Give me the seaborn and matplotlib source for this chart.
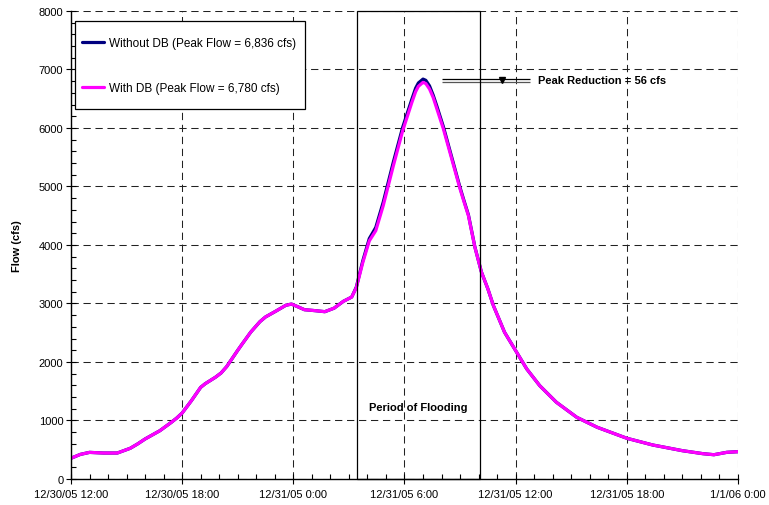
import matplotlib
matplotlib.use('Agg')
import matplotlib.pyplot as plt
from matplotlib.patches import Rectangle
from matplotlib.ticker import MultipleLocator
import seaborn as sns
import pandas as pd

# hours after 12/30/05 12:00
hours = [0, 0.5, 1, 1.75, 2.5, 3.2, 3.6, 4, 4.8, 5.4, 5.7, 6, 6.5, 7, 7.25, 7.5,
         7.8, 8.1, 8.4, 8.7, 9.0, 9.2, 9.7, 10.2, 10.5, 11.1, 11.6, 11.9, 12.2,
         12.6, 13.2, 13.7, 14.2, 14.7, 15.15, 15.4, 15.75, 16.1, 16.45, 16.85,
         17.4, 17.9, 18.4, 18.6, 18.75, 19.0, 19.15, 19.35, 19.55, 19.75, 20.1,
         20.55, 21.0, 21.2, 21.45, 21.8, 22.15, 22.5, 22.8, 23.4, 24, 24.6, 25.3,
         26.2, 27.3, 28.4, 29.2, 30, 31.4, 33, 34.1, 34.7, 35.4, 36]

with_db = [354, 420, 455, 444, 444, 525, 600, 684, 826, 965, 1040, 1128, 1339, 1567,
           1630, 1680, 1740, 1812, 1920, 2060, 2200, 2290, 2510, 2690, 2770, 2877,
           2970, 2990, 2950, 2894, 2877, 2860, 2920, 3037, 3110, 3270, 3700, 4070,
           4245, 4670, 5356, 5950, 6439, 6620, 6712, 6780, 6760, 6667, 6520, 6325,
           5983, 5470, 4957, 4750, 4501, 3960, 3540, 3250, 2963, 2508, 2194, 1880,
           1595, 1311, 1054, 884, 790, 696, 581, 484, 433, 415, 456, 467]

without_db = [354, 420, 455, 444, 444, 525, 600, 684, 826, 965, 1040, 1128, 1339, 1567,
              1630, 1680, 1740, 1812, 1920, 2060, 2200, 2290, 2510, 2690, 2770, 2877,
              2970, 2990, 2950, 2894, 2877, 2860, 2920, 3037, 3110, 3280, 3730, 4110,
              4300, 4730, 5420, 6010, 6495, 6680, 6770, 6836, 6815, 6720, 6560, 6370,
              6020, 5500, 4980, 4770, 4515, 3965, 3540, 3250, 2963, 2508, 2194, 1880,
              1595, 1311, 1054, 884, 790, 696, 581, 484, 433, 415, 456, 467]

x_tick_labels = ['12/30/05 12:00', '12/30/05 18:00', '12/31/05 0:00', '12/31/05 6:00',
                 '12/31/05 12:00', '12/31/05 18:00', '1/1/06 0:00']

peak_without = 6836
peak_with = 6780
flood_start, flood_end = 15.42, 22.1

df = pd.DataFrame({'hours': hours, 'without': without_db, 'with': with_db})

sns.set_theme(style='white')
plt.rcParams['font.family'] = ['Liberation Sans', 'DejaVu Sans']
plt.rcParams.update({'text.color': 'black', 'axes.labelcolor': 'black',
                     'xtick.color': 'black', 'ytick.color': 'black'})

fig = plt.figure(figsize=(7.69, 5.06), dpi=100)
ax = fig.add_axes([0.0923, 0.0514, 0.8674, 0.9249])

sns.lineplot(data=df, x='hours', y='without', color='#000080', lw=2.3, ax=ax,
             label='Without DB (Peak Flow = 6,836 cfs)', solid_joinstyle='round')
sns.lineplot(data=df, x='hours', y='with', color='#FF00FF', lw=2.3, ax=ax,
             label='With DB (Peak Flow = 6,780 cfs)', solid_joinstyle='round')

ax.set_xlim(0, 36)
ax.set_ylim(0, 8000)
ax.set_xticks(range(0, 37, 6))
ax.set_xticklabels(x_tick_labels, fontsize=8)
ax.xaxis.set_minor_locator(MultipleLocator(1))
ax.set_yticks(range(0, 8001, 1000))
ax.yaxis.set_minor_locator(MultipleLocator(200))
ax.tick_params(axis='y', labelsize=8)
ax.tick_params(which='both', bottom=True, left=True, top=False, right=False)
ax.tick_params(which='major', direction='inout', length=7, width=0.8, color='black', pad=2)
ax.tick_params(which='minor', direction='in', length=3.5, width=0.8, color='black')
ax.tick_params(axis='x', which='major', pad=4)

ax.grid(True, which='major', color='#222222', linestyle=(0, (7, 4.5)), linewidth=0.75)
ax.set_axisbelow(True)

sns.despine(ax=ax)
for s in ['left', 'bottom']:
    ax.spines[s].set_color('black')
    ax.spines[s].set_linewidth(1)

ax.set_xlabel('')
ax.set_ylabel('Flow (cfs)', fontsize=8, fontweight='bold', labelpad=12)

# period of flooding box
ax.add_patch(Rectangle((flood_start, 0), flood_end - flood_start, 8000, fill=False,
                       edgecolor='black', lw=0.9, zorder=3, clip_on=False))
ax.text((flood_start + flood_end) / 2, 1230, 'Period of Flooding', ha='center',
        va='center', fontsize=8, fontweight='bold')

# peak reduction marker
ax.hlines([peak_without], 20.0, 24.75, color='black', lw=0.9)
ax.hlines([peak_with], 20.0, 24.75, color='#555555', lw=0.9)
ax.plot([23.28], [(peak_without + peak_with) / 2 + 15], marker='v', color='black',
        markersize=4.5, ls='none')
ax.text(25.2, 6820, 'Peak Reduction = 56 cfs', fontsize=8, fontweight='bold',
        va='center', ha='left')

# legend box drawn separately so the padding can be uneven like the original
ax.add_patch(Rectangle((0.006, 0.7906), 0.345, 0.188, transform=ax.transAxes,
                       facecolor='white', edgecolor='black', lw=0.9, zorder=4))
leg = ax.legend(loc='upper left', bbox_to_anchor=(0.0165, 0.9444), fontsize=8.5,
                frameon=False, handlelength=1.86, handletextpad=0.42,
                labelspacing=2.8, borderpad=0, borderaxespad=0)
leg.set_zorder(5)

fig.savefig('out.png', dpi=100)
